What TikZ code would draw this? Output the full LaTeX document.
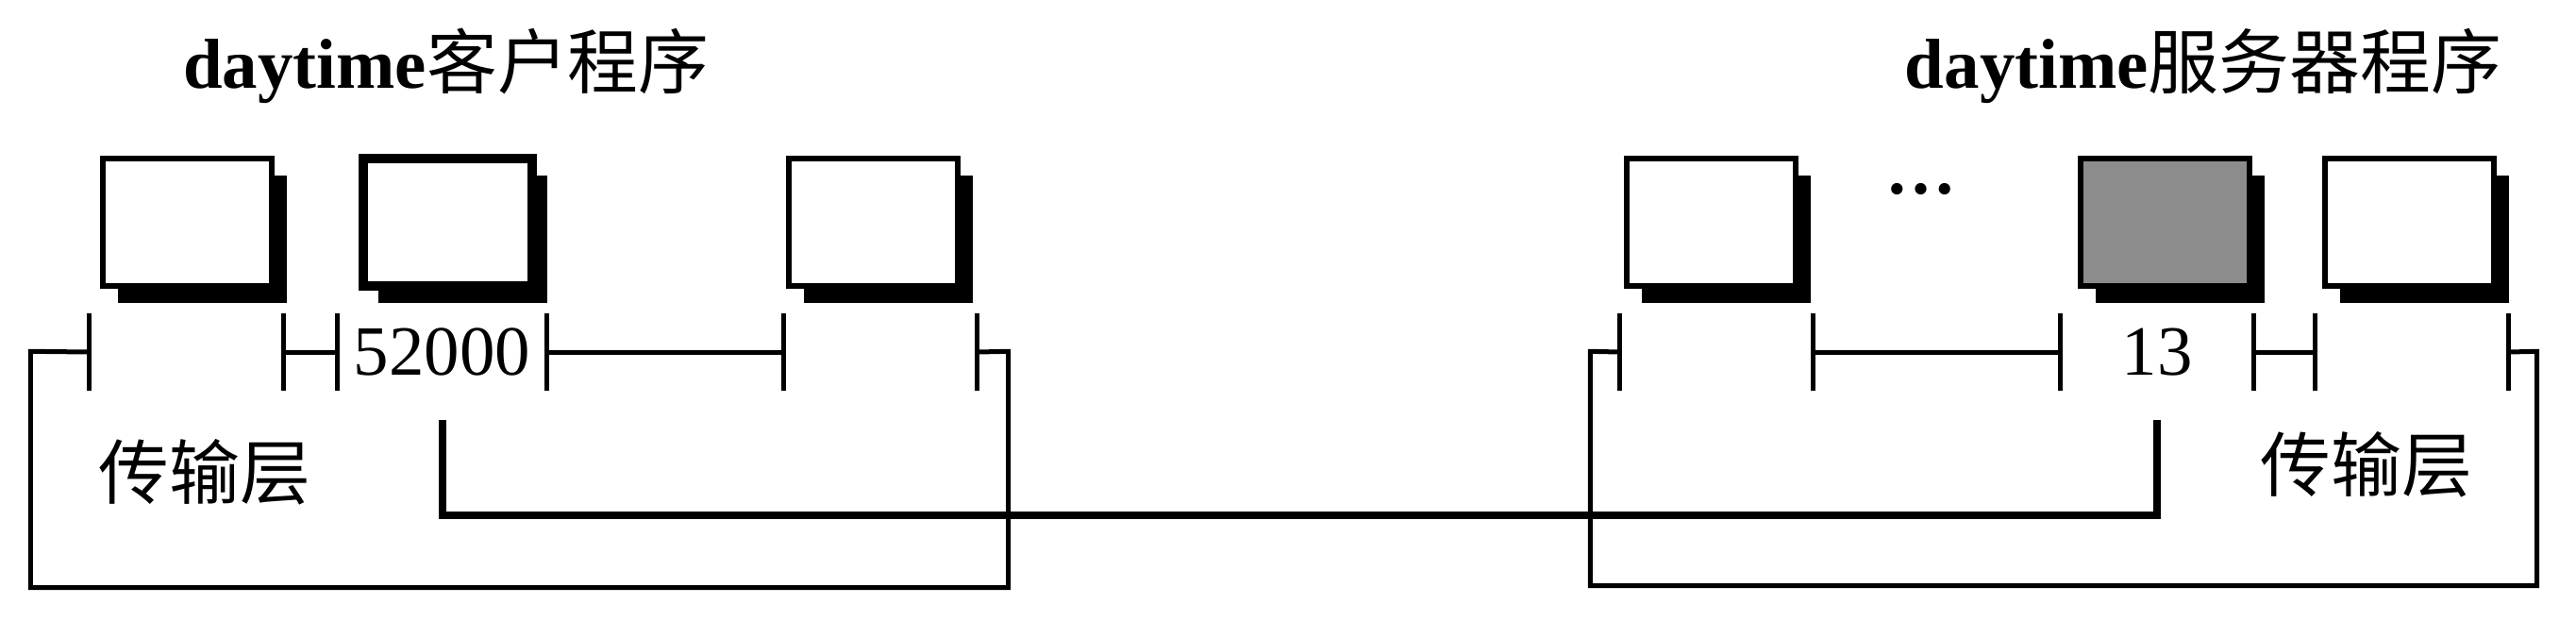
\documentclass[tikz,border=0pt]{standalone}
\usepackage{fontspec}
\setmainfont{Liberation Serif}
\newfontfamily\cjk{Noto Sans CJK SC}
\usepackage{tikz}
\usetikzlibrary{shadows}

\begin{document}
\begin{tikzpicture}[
  font=\fontsize{21.3}{25}\selectfont,
  sockbox/.style={draw, line width=0.06cm, fill=white, minimum width=1.79cm, minimum height=1.35cm,
    drop shadow={shadow xshift=0.16cm, shadow yshift=-0.18cm, opacity=1, fill=black}},
  port/.style={inner sep=0pt, minimum height=0.8cm},
  layer/.style={inner sep=0pt},
  title/.style={font=\fontsize{21.3}{25}\selectfont\bfseries},
  wall/.style={line width=0.05cm},
  tick/.style={line width=0.05cm},
  link/.style={line width=0.08cm}
]
\useasboundingbox (0,0) rectangle (27.3,-6.57);

% client side
\node[title] (ctitle) at (4.73,-0.70) {daytime{\cjk\mdseries 客户程序}};
\node[sockbox] (box1) at (1.98,-2.355) {};
\node[sockbox, line width=0.1cm] (box2) at (4.745,-2.355) {};
\node[sockbox] (box3) at (9.25,-2.355) {};
\node[port, minimum width=2.05cm] (c1) at (1.975,-3.73) {};
\node[port, minimum width=2.21cm] (c2) at (4.685,-3.73) {52000};
\node[port, minimum width=2.04cm] (c3) at (9.33,-3.73) {};
\node[layer, minimum width=10.35cm, minimum height=2.49cm] (cl) at (5.505,-4.975) {};
\node (clabel) at (2.17,-5.00) {\cjk 传输层};

% server side
\node[title] (stitle) at (23.35,-0.70) {daytime{\cjk\mdseries 服务器程序}};
\node[sockbox] (boxA) at (18.135,-2.355) {};
\node (dots) at (20.36,-2.0) {\textbf{…}};
\node[sockbox, fill=black!45] (boxB) at (22.94,-2.355) {};
\node[sockbox] (boxC) at (25.535,-2.355) {};
\node[port, minimum width=2.04cm] (s1) at (18.19,-3.73) {};
\node[port, minimum width=2.04cm] (s2) at (22.86,-3.73) {13};
\node[port, minimum width=2.04cm] (s3) at (25.56,-3.73) {};
\node[layer, minimum width=10.02cm, minimum height=2.47cm] (sl) at (21.87,-4.965) {};
\node (slabel) at (25.08,-4.92) {\cjk 传输层};

\foreach \p in {c1,c2,c3,s1,s2,s3}
  \draw[tick] (\p.north west) -- (\p.south west) (\p.north east) -- (\p.south east);

\draw[wall] (c1.west) -- (cl.north west) -- (cl.south west) -- (cl.south east) -- (cl.north east) -- (c3.east);
\draw[wall] (c1.east) -- (c2.west) (c2.east) -- (c3.west);
\draw[wall] (s1.west) -- (sl.north west) -- (sl.south west) -- (sl.south east) -- (sl.north east) -- (s3.east);
\draw[wall] (s1.east) -- (s2.west) (s2.east) -- (s3.west);

\draw[link] ([yshift=-0.31cm]c2.south) -- ++(0,-1.01) -| ([yshift=-0.31cm]s2.south);
\end{tikzpicture}
\end{document}
